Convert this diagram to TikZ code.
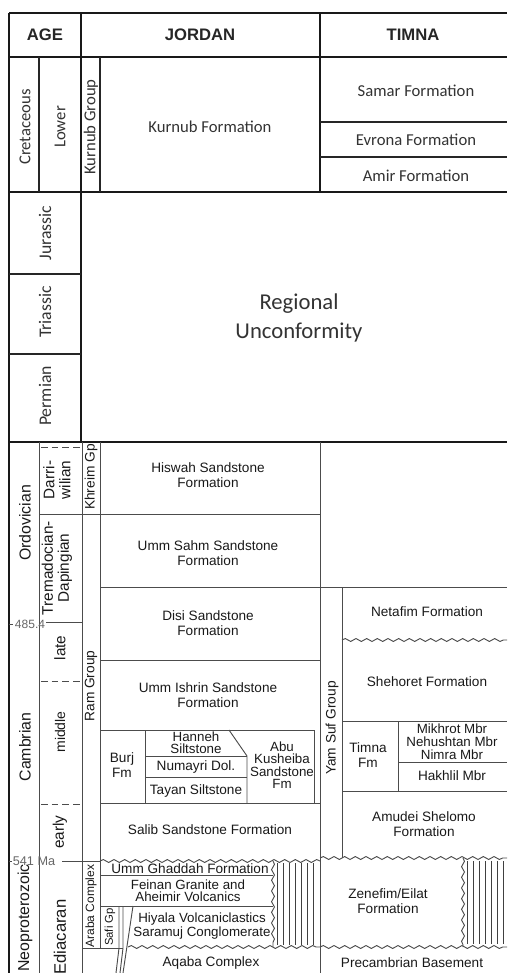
\documentclass[tikz,border=0pt]{standalone}
\usepackage{fontspec}
\setmainfont{Liberation Sans}
\newfontfamily\calibri{Carlito}
\usetikzlibrary{decorations.pathmorphing}

\begin{document}
\begin{tikzpicture}[x=0.75pt,y=-0.75pt]
\tikzset{
	frame rule/.style={line width=1.5pt,black!90},
	mid rule/.style={line width=1.1pt,black!85},
	thin rule/.style={line width=0.7pt,black!70},
	dash rule/.style={line width=0.7pt,black!70,dash pattern=on 5pt off 3pt},
	wave rule/.style={line width=0.7pt,black!70,decorate,decoration={snake,segment length=8pt,amplitude=1.1pt}},
	hatch rule/.style={line width=0.5pt,black!75},
	head node/.style={font=\fontsize{12.5}{15}\selectfont\bfseries,text=black!85},
	cal node/.style={font=\calibri\fontsize{12.5}{15}\selectfont,text=black!80,inner sep=0},
	era node/.style={font=\calibri\fontsize{13.3}{15}\selectfont,text=black!80,rotate=90,inner sep=0},
	fm node/.style={font=\fontsize{10.2}{11.3}\selectfont,text=black!90,align=center,inner sep=0},
	tight node/.style={font=\fontsize{10}{9.3}\selectfont,text=black!90,align=center,inner sep=0},
	period node/.style={font=\fontsize{11.9}{13}\selectfont,text=black!90,rotate=90,inner sep=0},
	stage node/.style={font=\fontsize{11.5}{12}\selectfont,text=black!90,rotate=90,align=center,inner sep=0},
	gp node/.style={font=\fontsize{10.3}{12}\selectfont,text=black!90,rotate=90,inner sep=0},
	ma node/.style={font=\fontsize{9}{10}\selectfont,text=black!60,inner sep=0}
}
\useasboundingbox (0,0) rectangle (507,973);

% frame and upper table
\draw[frame rule] (9,13) -- (507,13);
\draw[frame rule] (9,57) -- (507,57);
\draw[frame rule] (9,192) -- (507,192);
\draw[frame rule] (9,442) -- (507,442);
\draw[frame rule] (9,13) -- (9,973);
\draw[frame rule] (81,13) -- (81,442);
\draw[frame rule] (320,13) -- (320,192);
\draw[mid rule] (39,57) -- (39,192);
\draw[mid rule] (100,57) -- (100,192);
\draw[mid rule] (320,122) -- (507,122);
\draw[mid rule] (320,157) -- (507,157);
\draw[mid rule] (9,274) -- (81,274);
\draw[mid rule] (9,354) -- (81,354);

% lower table, columns
\draw[thin rule] (39,442) -- (39,973);
\draw[thin rule] (82,442) -- (82,973);
\draw[thin rule] (100,442) -- (100,948);
\draw[thin rule] (320,442) -- (320,973);
\draw[thin rule] (342,587) -- (342,858);

% age boundaries
\draw[dash rule] (41,447) -- (82,447);
\draw[dash rule] (41,681) -- (82,681);
\draw[dash rule] (41,804) -- (82,804);
\draw[thin rule] (39,514) -- (320,514);
\draw[thin rule] (9,624) -- (13,624);
\draw[thin rule] (46,622) -- (82,622);
\draw[thin rule] (9,861) -- (12,861);
\draw[thin rule] (62,861) -- (100,861);

% Jordan
\draw[thin rule] (100,587) -- (507,587);
\draw[thin rule] (100,660) -- (320,660);
\draw[thin rule] (100,730) -- (314,730);
\draw[thin rule] (145,730) -- (145,803);
\draw[thin rule] (314,730) -- (314,803);
\draw[thin rule] (145,756) -- (247,756);
\draw[thin rule] (145,777) -- (247,777);
\draw[thin rule] (229,730) -- (247,756) -- (247,803);
\draw[thin rule] (100,803) -- (320,803);
\draw[wave rule] (100,861) -- (320,861);
\draw[thin rule] (100,875) -- (273,875);
\draw[thin rule] (100,906) -- (273,906);
\draw[thin rule] (82,948) -- (123,948);
\draw[wave rule] (128,947) -- (320,947);
\draw[wave rule] (273,861) -- (273,947);
\draw[thin rule] (119,906) -- (119,948) -- (116,973);
\draw[thin rule] (123,906) -- (123,948) -- (120,973);
\draw[thin rule] (133,906) -- (123,973);
\foreach \hx in {277,283,...,317}
	\draw[hatch rule] (\hx,863) -- (\hx,945);

% Timna
\draw[wave rule] (342,640) -- (507,640);
\draw[thin rule] (342,721) -- (507,721);
\draw[thin rule] (398,721) -- (398,791);
\draw[thin rule] (398,762) -- (507,762);
\draw[thin rule] (342,791) -- (507,791);
\draw[wave rule] (320,858) -- (507,858);
\draw[wave rule] (320,947) -- (507,947);
\draw[wave rule] (463,858) -- (463,947);
\foreach \hx in {467,473,...,505}
	\draw[hatch rule] (\hx,861) -- (\hx,944);

% header
\node[head node] (age) at (45,35) {AGE};
\node[head node] (jordan) at (200,35) {JORDAN};
\node[head node] (timna) at (413,35) {TIMNA};

% Cretaceous
\node[cal node,rotate=90] (cret) at (25,127) {Cretaceous};
\node[cal node,rotate=90] (lower) at (60,127) {Lower};
\node[cal node,rotate=90] (kurnubgp) at (91,127) {Kurnub Group};
\node[cal node] (kurnub) at (210,127) {Kurnub Formation};
\node[cal node] (samar) at (416,91) {Samar Formation};
\node[cal node] (evrona) at (416,140) {Evrona Formation};
\node[cal node] (amir) at (416,176) {Amir Formation};

% Jurassic to Permian
\node[era node] (jur) at (45,233) {Jurassic};
\node[era node] (tri) at (45,312) {Triassic};
\node[era node] (perm) at (45,396) {Permian};
\node[font=\calibri\fontsize{17}{21.5}\selectfont,text=black!80,align=center,inner sep=0] (regional) at (299,318) {Regional\\Unconformity};

% Ordovician to Ediacaran
\node[period node] (ordo) at (25,523) {Ordovician};
\node[period node] (camb) at (25,747) {Cambrian};
\node[period node] (neo) at (25,918) {Neoproterozoic};
\node[stage node] (darri) at (57,480) {Darri-\\wilian};
\node[stage node] (trem) at (57,568) {Tremadocian-\\Dapingian};
\node[stage node] (late) at (60,648) {late};
\node[stage node,font=\fontsize{10.5}{12}\selectfont] (middle) at (60,732) {middle};
\node[stage node] (early) at (60,832) {early};
\node[stage node,font=\fontsize{12.5}{13}\selectfont] (edia) at (60,937) {Ediacaran};
\node[ma node] (ma485) at (30,624) {485.4};
\node[ma node,font=\fontsize{9.5}{10}\selectfont] (ma541) at (34,861) {541 Ma};

\node[gp node] (khreim) at (91,477) {Khreim Gp};
\node[gp node] (ram) at (91,686) {Ram Group};
\node[gp node,font=\fontsize{9}{10}\selectfont] (araba) at (91,906) {Araba Complex};
\node[gp node,font=\fontsize{8.5}{10}\selectfont] (safi) at (110,927) {Safi Gp};
\node[gp node] (yamsuf) at (332,728) {Yam Suf Group};

\node[fm node] (hiswah) at (208,475) {Hiswah Sandstone\\Formation};
\node[fm node] (ummsahm) at (208,553) {Umm Sahm Sandstone\\Formation};
\node[fm node] (disi) at (208,623) {Disi Sandstone\\Formation};
\node[fm node] (ummishrin) at (208,695) {Umm Ishrin Sandstone\\Formation};
\node[fm node] (burj) at (122,765) {Burj\\Fm};
\node[tight node] (hanneh) at (196,743) {Hanneh\\Siltstone};
\node[fm node] (numayri) at (196,767) {Numayri Dol.};
\node[fm node] (tayan) at (196,791) {Tayan Siltstone};
\node[tight node] (abu) at (282,765) {Abu\\Kusheiba\\Sandstone\\Fm};
\node[fm node] (salib) at (210,830) {Salib Sandstone Formation};
\node[fm node] (ghaddah) at (190,869) {Umm Ghaddah Formation};
\node[tight node] (feinan) at (188,891) {Feinan Granite and\\Aheimir Volcanics};
\node[tight node] (hiyala) at (202,926) {Hiyala Volcaniclastics\\Saramuj Conglomerate};
\node[fm node] (aqaba) at (211,963) {Aqaba Complex};

\node[fm node] (netafim) at (427,612) {Netafim Formation};
\node[fm node] (shehoret) at (427,682) {Shehoret Formation};
\node[fm node] (timnafm) at (368,755) {Timna\\Fm};
\node[tight node,font=\fontsize{10}{9.6}\selectfont] (mikhrot) at (452,742) {Mikhrot Mbr\\Nehushtan Mbr\\Nimra Mbr};
\node[fm node] (hakhlil) at (452,776) {Hakhlil Mbr};
\node[fm node] (amudei) at (424,824) {Amudei Shelomo\\Formation};
\node[fm node] (zenefim) at (388,901) {Zenefim/Eilat\\Formation};
\node[fm node] (precam) at (412,963) {Precambrian Basement};
\end{tikzpicture}
\end{document}
